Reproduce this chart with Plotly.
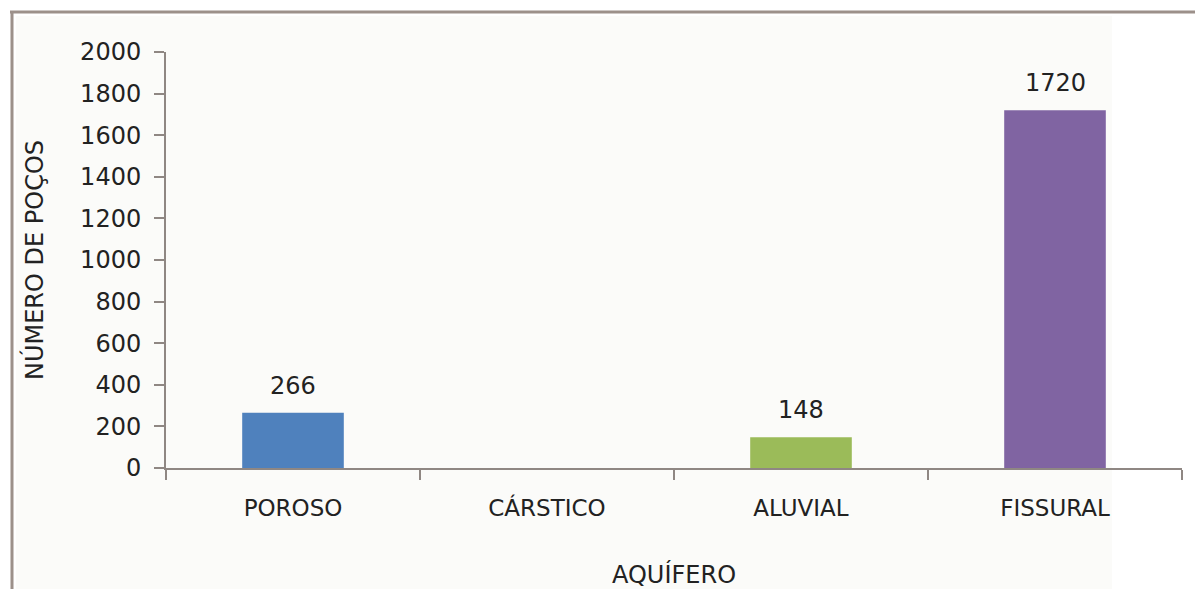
import plotly.graph_objects as go

categories = ["POROSO", "CÁRSTICO", "ALUVIAL", "FISSURAL"]
values = [266, 0, 148, 1720]
value_labels = ["266", "", "148", "1720"]
bar_colors = ["#4F81BD", "#C0504D", "#9BBB59", "#8064A2"]
y_ticks = list(range(0, 2001, 200))

FONT = "DejaVu Sans"
TXT = "#222222"
AX = "#8f8783"

fig = go.Figure()
fig.add_trace(go.Bar(
    x=categories, y=values,
    marker=dict(color=bar_colors, line=dict(width=0)),
    width=0.4, showlegend=False, hoverinfo="x+y",
))

for c, v, t in zip(categories, values, value_labels):
    if t:
        fig.add_annotation(x=c, y=v, text=t, showarrow=False, yanchor="bottom",
                           yshift=11, font=dict(family=FONT, size=24, color=TXT))

L, R, T, B = 166, 13, 52, 121
W, H = 1195, 589
pw, ph = W - L - R, H - T - B

def px(x):
    return (x - L) / pw

def py(y):
    return (H - B - y) / ph

# light panel background and frame lines
fig.add_shape(type="rect", xref="paper", yref="paper", x0=px(16), x1=px(1112), y0=py(600), y1=py(16),
              fillcolor="#fbfbf9", line=dict(width=0), layer="below")
fig.add_shape(type="line", xref="paper", yref="paper", x0=px(10), x1=px(1200), y0=py(12), y1=py(12),
              line=dict(color="#9c908a", width=3))
fig.add_shape(type="line", xref="paper", yref="paper", x0=px(12), x1=px(12), y0=py(11), y1=py(600),
              line=dict(color="#9c908a", width=3))

fig.update_layout(
    width=W, height=H,
    margin=dict(l=L, r=R, t=T, b=B, autoexpand=False),
    paper_bgcolor="white", plot_bgcolor="rgba(0,0,0,0)",
    font=dict(family=FONT, color=TXT),
    bargap=0.6,
    xaxis=dict(
        type="category", tickson="boundaries", ticks="outside", ticklen=10, tickwidth=2,
        tickcolor=AX, showline=True, linecolor=AX, linewidth=2, showgrid=False,
        tickfont=dict(family=FONT, size=23, color=TXT), ticklabelstandoff=18,
        title=dict(text="AQUÍFERO", font=dict(family=FONT, size=24, color=TXT), standoff=48),
        automargin=False,
    ),
    yaxis=dict(
        range=[0, 2000], tickvals=y_ticks, ticks="outside", ticklen=10, tickwidth=2,
        tickcolor=AX, showline=True, linecolor=AX, linewidth=2, showgrid=False, zeroline=False,
        tickfont=dict(family=FONT, size=24, color=TXT), ticklabelstandoff=8,
        title=dict(text="NÚMERO DE POÇOS", font=dict(family=FONT, size=24, color=TXT), standoff=30),
        automargin=False,
    ),
)

fig.write_html("out.html", config={"displayModeBar": False},
               post_script="document.body.style.margin='0';document.body.style.overflow='hidden';")
